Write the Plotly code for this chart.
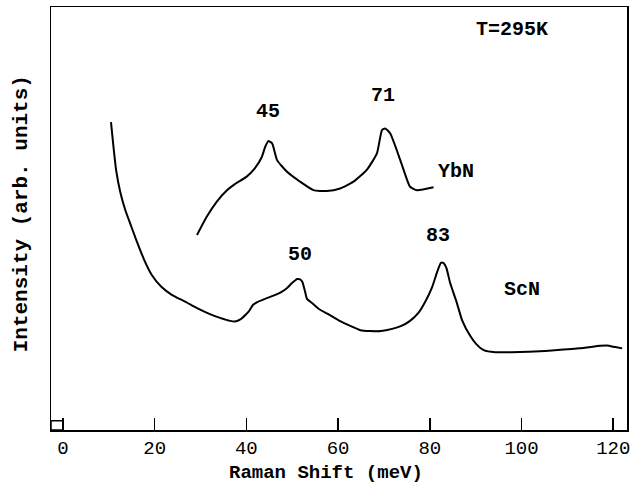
import plotly.graph_objects as go

# ScN spectrum (Raman shift meV, intensity arb. units)
scn_x = [10.48, 10.98, 11.59, 12.49, 13.59, 14.40, 16.00, 17.81, 19.41, 21.52, 23.82, 26.74,
         29.24, 32.05, 34.26, 36.47, 37.77, 38.77, 39.78, 40.58, 41.48, 42.49, 44.09, 46.20,
         47.60, 48.81, 50.01, 51.11, 51.72, 52.22, 52.82, 53.22, 54.33, 55.83, 57.84, 60.34,
         62.65, 64.86, 66.97, 69.37, 71.78, 73.79, 75.69, 77.60, 79.00, 80.51, 81.61, 82.42,
         82.92, 83.62, 84.42, 85.83, 87.03, 88.84, 90.14, 91.75, 94.26, 97.77, 105.19, 112.62,
         117.13, 118.63, 120.44, 121.95]
scn_y = [72.8, 67.4, 61.5, 56.3, 52.0, 49.6, 44.9, 40.0, 36.6, 33.8, 31.9, 30.3, 28.8, 27.4,
         26.5, 25.8, 25.7, 26.2, 27.2, 28.1, 29.6, 30.3, 31.0, 31.9, 32.6, 33.5, 34.8, 35.7,
         35.6, 35.0, 32.6, 31.0, 30.0, 28.6, 27.4, 25.8, 24.6, 23.6, 23.4, 23.4, 23.9, 24.6,
         25.8, 27.8, 30.3, 33.8, 37.4, 39.5, 39.5, 38.3, 34.8, 30.3, 26.0, 22.2, 20.3, 18.9,
         18.4, 18.4, 18.7, 19.3, 19.9, 20.0, 19.6, 19.3]

# YbN spectrum
ybn_x = [29.24, 31.35, 33.56, 35.77, 37.57, 40.08, 41.88, 43.39, 44.09, 44.79, 45.60, 46.70,
         48.81, 51.72, 54.63, 57.53, 60.44, 63.35, 66.26, 68.47, 69.57, 70.28, 71.38, 72.78,
         74.29, 75.69, 77.20, 80.81]
ybn_y = [46.1, 50.4, 54.0, 56.7, 58.2, 59.9, 61.9, 64.6, 66.9, 68.3, 67.8, 63.8, 61.1, 58.7,
         56.7, 56.5, 57.1, 58.7, 61.5, 65.4, 70.9, 71.3, 70.1, 66.2, 61.5, 57.5, 56.7, 57.4]

# Text labels
label_text = ["T=295K", "45", "71", "YbN", "50", "83", "ScN"]
label_x = [97.97, 44.79, 69.77, 85.73, 51.72, 81.82, 100.17]
label_y = [94.6, 75.2, 79.0, 61.0, 41.4, 45.9, 33.1]

x_ticks = [0, 20, 40, 60, 80, 100, 120]
x_range = [-2.6, 123.0]
y_range = [0, 100]
x_title = "Raman Shift (meV)"
y_title = "Intensity (arb. units)"

FONT = "Liberation Mono"

fig = go.Figure()
fig.add_trace(go.Scatter(x=scn_x, y=scn_y, mode="lines",
                         line=dict(color="black", width=2, shape="spline", smoothing=0.5),
                         showlegend=False, hoverinfo="skip"))
fig.add_trace(go.Scatter(x=ybn_x, y=ybn_y, mode="lines",
                         line=dict(color="black", width=2, shape="spline", smoothing=0.5),
                         showlegend=False, hoverinfo="skip"))

for t, x, y in zip(label_text, label_x, label_y):
    fig.add_annotation(x=x, y=y, text="<b>%s</b>" % t, showarrow=False,
                       font=dict(family=FONT, size=20, color="black"))

# axis titles as paper annotations (keeps the plot area fixed)
fig.add_annotation(xref="paper", yref="paper", x=0.478, y=-0.102, yanchor="middle",
                   text="<b>%s</b>" % x_title, showarrow=False,
                   font=dict(family=FONT, size=19, color="black"))
fig.add_annotation(xref="paper", yref="paper", x=-0.052, y=0.51, xanchor="center",
                   yanchor="middle", textangle=-90,
                   text="<b>%s</b>" % y_title, showarrow=False,
                   font=dict(family=FONT, size=21, color="black"))

# small square at the origin corner
fig.add_shape(type="rect", xref="x", yref="y", x0=x_range[0], x1=0, y0=0, y1=2.2,
              line=dict(color="black", width=1.5))

fig.update_xaxes(range=x_range, tickvals=x_ticks, ticktext=[str(v) for v in x_ticks],
                 ticks="inside", ticklen=12, tickwidth=1.5, tickcolor="black",
                 showline=True, linecolor="black", linewidth=1.5, mirror=True,
                 showgrid=False, zeroline=False, automargin=False,
                 tickfont=dict(family=FONT, size=19, color="black"))
fig.update_yaxes(range=y_range, showticklabels=False, ticks="",
                 showline=True, linecolor="black", linewidth=1.5, mirror=True,
                 showgrid=False, zeroline=False, automargin=False)

fig.update_layout(width=636, height=483, margin=dict(l=51, r=9, t=7, b=53),
                  plot_bgcolor="white", paper_bgcolor="white",
                  font=dict(family=FONT, color="black"))

fig.write_html("out.html", config={"displayModeBar": False, "staticPlot": True},
               post_script="document.body.style.margin='0';document.body.style.overflow='hidden';")
